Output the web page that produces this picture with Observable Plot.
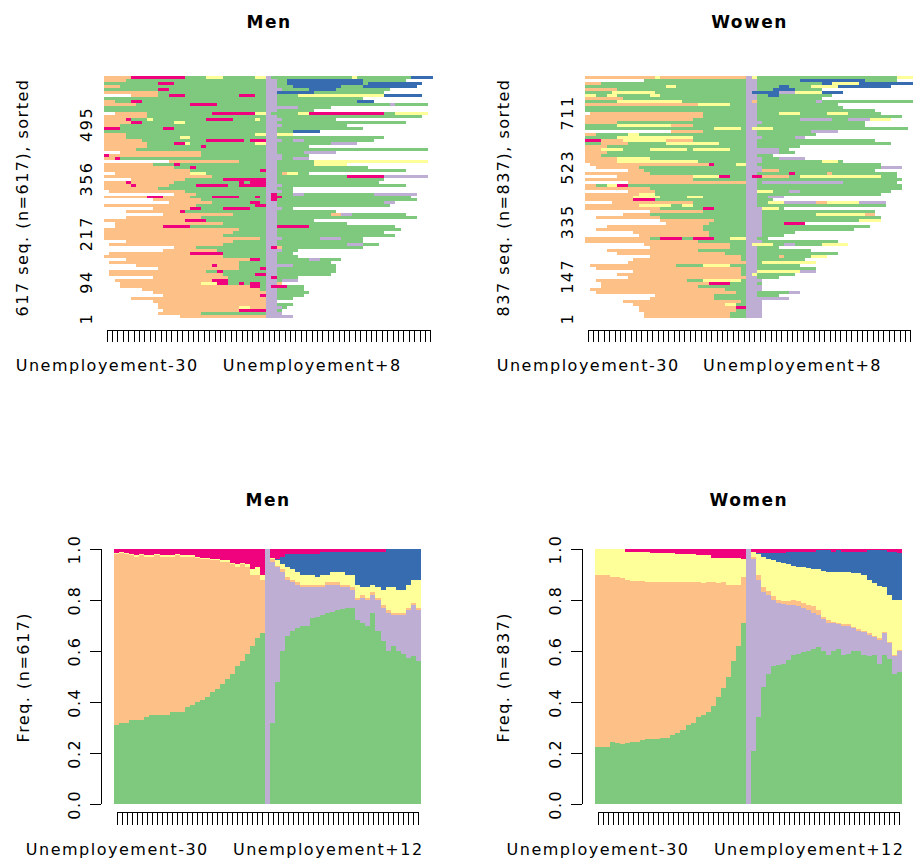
<!DOCTYPE html>
<html><head><meta charset="utf-8">
<script src="https://cdn.jsdelivr.net/npm/d3@7"></script>
<script src="https://cdn.jsdelivr.net/npm/@observablehq/plot@0.6"></script>
<style>
html,body{margin:0;padding:0;background:#fff;}
#wrap{position:relative;width:913px;height:866px;overflow:hidden;background:#fff;}
.panel{position:absolute;}
</style></head><body><div id="wrap"></div>
<script>
// ---- states (TraMineR Accent palette order) ----
const states = ["g","p","o","y","b","r"];
const stateColors = ["#7FC97F","#BEAED4","#FDC086","#FFFF99","#386CB0","#F0027F"];

// ---- time axis ----
const months = [-30,-29,-28,-27,-26,-25,-24,-23,-22,-21,-20,-19,-18,-17,-16,-15,-14,-13,-12,-11,-10,-9,-8,-7,-6,-5,-4,-3,-2,-1,0,1,2,3,4,5,6,7,8,9,10,11,12,13,14,15,16,17,18,19,20,21,22,23,24,25,26,27,28,29,30];
const timePrefix = "Unemployement";
const shownMonthsTop = [-30, 8];
const shownMonthsBottom = [-30, 12];

// ---- sequence index plots: rows read top -> bottom, "before|from unemployment" run-lengths ----
const menN = 617;
const menYTicks = [1, 94, 217, 356, 495];
const menRows = [
"o5r10g4y3g6y2|p1g15y1g10b4","o4g26|p2g2b14g8","g10r3g17|p2g2b14g1b10","o3g27|p2g3b9g4b10","g10r2g18|p3g5b5g10",
"o10g20|p2b7g13",".5o5g2r3g10r3g2|p2g4y16b7","g30|p2g16","o2g3r2g23|p2g15b3","o6g10r5g9|p2g21p1g6",
"g30|p6g6","g30|p2g7",".2o6g12r8y2|p1g5y2r14g2y6","o8g22|p2g27","o4r1g3y1g10r5g4y1g1|p3g10",
"o5r2g6y2g15|p2g24","o3g27|p3g12","r3g8r2g17|p2g16","g30|p2g3b5","o4g24y2|p2y3",
"o4g10y2g14|p2g20","o7g12r7g1r3|p3g2p2g13","o8g5r2y1g12y2|p2g10p5","o8g10r1g11|p2g6","o6g24|p2g28",
".3o15g12|p2g5p6","r1o17g12|p3g5","o2r1g27|p3g2p3",".12o13g5|p2g7y21","o9g4r1g16|p2g7y6",
"o13g3r1g13|p2g17","o16g13r1|p2g24",".2o14y3g11|p2g1o1y2g2","o20g10|p2g13r7p8",".5o10g7r8|p2g20",
"o4r1o8g12r1g1r3|p2g19","o5r1o6g5r6g2r5|p3g23","o10g20|p2g3",".1o14g15|p3g2",".13o4g13|p1r1g3p2g13p8",
"o8r3o5g4r5g3r1g1|p1r2g24",".9o9g12|p1r1g26",".12o8g7r2g1|p2g20p2","o17g11r2|p2g21",".9o7r2g4r5g3|p3g2",
".4o10r1g15|p2g11",".11o13g6|p2g10o2p2g10",".4o14g12|p2g26","o15r4g11|p2g7",".2o20g8|p2g13",
".2o9r5g14|p2r6g16","o25g5|p2g23","o24g6|p2g20","o22g8|p2g22","o29g1|p3g7p4g4",
".4o20g6|p2g16",".1o21g8|p2g13p3g3",".13o4g13|p1r1o1g15",".11o10g9|p3g3",".1o15r6g8|p2g3",
"o22g8|p2g4",".4o23r2g1|p2g6p2g4",".1o24g5|p2g10",".6o14r1o4g5|p5g8",".10o15g4r1|p2g11",
".1o18g2r1g8|p2g11",".1o21g6r2|p2g10",".9o14g7|p1r1g4",".2o18r3g7|p2g1p3",".3o15y3r2g2r1g1r2g1|p2o1",
".3o24r2g1|p1r3g3",".7o22g1|p2g5",".9o21|p2g6",".11o18r1|p2g5",".5o25|p2g3",
".9o21|p2",".10o20|p2g3",".10o15y2o3|p3g1",".11o14r5|p2g1",".10o8g12|p3",
".14o16|p5"
];

const womenN = 837;
const womenYTicks = [1, 147, 335, 523, 711];
const womenRows = [
"o13y1o16|p1y1g26y3",".11g19|p2g8b12g6","o3g27|p2g12b2y5b10","g15y2g13|p2g4b2g4y5b10","o6g24|p2g3b4g5",
"g5y8g17|p1b5p3y5b4","y2g2y2g6y2g16|p2g2b2g10","o7g23|p2g12","g6y12g12|p1o1g11p1g17","o21y6g3|p2g15",
"g30|p2g16","g30|p2g22",".1o21g8|p2g4y4g5y4g6","o22g8|p2g27","o20g10|p2g8p6g3p4y4",
"o6g24|p3g19","g6y10o4g10|p2g20","g24y5g1|p1y4g25",".16o6g8|p2g10p5","o2g6y2g20|p2g11",
"g6y14g10|p3g6p2","r3o4y8o5g10|p2g22","g3o5g7y10g5|p2g25","o4g26|p2g8","o3y4g5y7g1y7g3|p6g2",
"o4g26|p6g3","o3g27|p2g3","o6y6g18|p3g3p5","o6y15g9|p3g11y3g1",".1o22r1g4y2|p2g23",
".2o8g20|p3g22p4",".8o3g19|p3o3g18","o12g18|p2g6r1g6o1g12",".6o14y5r2g3|p1r2o5g2y15g3","o20g10|p2g27",
".8o22|p2g1p15g10","o2g2y2r2g22|p2g27","o12g18|p2g27",".8o5g17|p2y3g3p2g17","o10y3g17|p2g23",
"o9y5g5y3g8|p2g2p3","o9r4g17|p2g3",".5o15g10|p2g2y3p6o2y6p5","o10y6g2y2g10|p2g24","o14g8r2g6|p3y3g1",
".12o10g8|p3g21",".7o5g18|p3g10y9o2",".2o12g16|p3g22",".14o10g6|p3g18y4",".15o8g7|p3g4r4",
".4o18g8|p3g20",".2o20g8|p3g17",".9o14g7|p3g6",".10o13g7|p3g4","o12g2r4g2r4g3y3|p2g2",
"o21g9|p3g14",".11o16g3|p1y4g2p2g5y5",".12o15g3|p2g4",".4o17g9|p2g10",".6o20g4|p2g15",
".12o17g1|p2g4o1g5y3",".9o20g1|p2g9",".8o22|p2g1y10",".1o16g5y5g3|p2g8",".2o27g1|p2g11",
".9o20g1|p2y8p3",".6o23g1|p1y1g7",".8o22|p2g4",".2o17g3y7g1|p3",".3o20r4g3|p2g1",
".3o18g9|p3",".1o25g4|p3",".2o26g2|p2g6p2",".13o11g6|p2g4",".12o12g6|p8",
".7o22g1|p3",".9o17y2g2|p3",".10o18r2|p3",".10o18g2|p3",".11o16g3|p3",
".11o16g3|p3"
];

// ---- state distribution plots: cumulative tops per month (null = state absent) ----
const menGreenTop = [0.31,0.32,0.32,0.33,0.33,0.33,0.34,0.35,0.35,0.35,0.35,0.36,0.36,0.36,0.38,0.39,0.40,0.41,0.42,0.44,0.45,0.47,0.49,0.51,0.54,0.56,0.59,0.62,0.65,0.67,
 0,
 0.32,0.48,0.60,0.66,0.68,0.69,0.70,0.70,0.73,0.735,0.74,0.75,0.755,0.76,0.765,0.77,0.77,0.72,0.71,0.70,0.75,0.68,0.64,0.60,0.62,0.60,0.59,0.575,0.58,0.56];
const menPurpleTop = [null,null,null,null,null,null,null,null,null,null,null,null,null,null,null,null,null,null,null,null,null,null,null,null,null,null,null,null,null,null,
 1,
 0.95,0.93,0.91,0.88,0.87,0.86,0.85,0.85,0.85,0.85,0.85,0.86,0.86,0.86,0.85,0.85,0.84,0.80,0.81,0.80,0.82,0.80,0.77,0.75,0.74,0.74,0.74,0.76,0.78,0.76];
const menOrangeTop = [0.98,0.985,0.98,0.975,0.97,0.975,0.97,0.97,0.975,0.97,0.97,0.97,0.975,0.97,0.97,0.97,0.965,0.96,0.96,0.955,0.955,0.95,0.95,0.94,0.93,0.94,0.93,0.90,0.90,0.88,
 null,
 0.96,0.935,0.92,0.89,0.88,0.87,0.86,0.86,0.86,0.86,0.86,0.87,0.87,0.87,0.86,0.86,0.85,0.81,0.82,0.81,0.83,0.81,0.78,0.76,0.75,0.75,0.75,0.77,0.79,0.77];
const menYellowTop = [0.985,0.99,0.985,0.98,0.975,0.98,0.975,0.975,0.98,0.975,0.975,0.975,0.98,0.975,0.975,0.975,0.97,0.965,0.965,0.96,0.96,0.955,0.955,0.945,0.94,0.945,0.94,0.92,0.93,0.90,
 null,
 0.965,0.955,0.94,0.93,0.92,0.91,0.90,0.90,0.90,0.89,0.90,0.90,0.91,0.91,0.91,0.90,0.90,0.86,0.85,0.85,0.86,0.85,0.84,0.85,0.85,0.84,0.84,0.86,0.88,0.88];
const menBlueTop = [null,null,null,null,null,null,null,null,null,null,null,null,null,null,null,null,null,null,null,null,null,null,null,null,null,null,null,null,null,null,
 null,
 0.965,0.96,0.97,0.98,0.98,0.98,0.98,0.98,0.98,0.98,0.99,0.99,0.99,0.99,0.99,0.99,0.99,0.99,0.99,0.99,0.99,0.99,0.99,1,1,1,1,1,1,1];

const womenGreenTop = [0.225,0.225,0.225,0.245,0.24,0.235,0.24,0.245,0.245,0.25,0.255,0.255,0.255,0.26,0.26,0.27,0.28,0.29,0.31,0.32,0.34,0.35,0.36,0.385,0.42,0.455,0.50,0.56,0.62,0.71,
 0,
 0.21,0.34,0.46,0.51,0.54,0.545,0.55,0.565,0.585,0.59,0.595,0.60,0.61,0.615,0.60,0.585,0.60,0.61,0.585,0.59,0.60,0.60,0.585,0.58,0.585,0.55,0.585,0.57,0.51,0.52];
const womenPurpleTop = [null,null,null,null,null,null,null,null,null,null,null,null,null,null,null,null,null,null,null,null,null,null,null,null,null,null,null,null,null,null,
 1,
 0.96,0.88,0.83,0.82,0.80,0.79,0.785,0.78,0.78,0.775,0.77,0.76,0.75,0.74,0.725,0.71,0.71,0.705,0.70,0.70,0.69,0.68,0.675,0.665,0.655,0.645,0.67,0.63,0.58,0.60];
const womenOrangeTop = [0.90,0.90,0.90,0.89,0.89,0.885,0.88,0.875,0.875,0.875,0.87,0.87,0.87,0.87,0.87,0.87,0.87,0.87,0.87,0.87,0.87,0.865,0.87,0.87,0.865,0.87,0.86,0.86,0.86,0.89,
 null,
 0.97,0.90,0.85,0.835,0.815,0.80,0.795,0.795,0.80,0.795,0.79,0.78,0.775,0.76,0.735,0.72,0.715,0.71,0.705,0.705,0.695,0.685,0.68,0.67,0.66,0.65,0.675,0.635,0.585,0.605];
const womenYellowTop = [1,1,1,1,1,1,0.99,0.99,0.99,0.99,0.99,0.985,0.985,0.985,0.985,0.985,0.98,0.98,0.98,0.98,0.975,0.975,0.975,0.965,0.965,0.965,0.965,0.965,0.965,0.96,
 null,
 0.99,0.98,0.97,0.96,0.955,0.95,0.945,0.94,0.935,0.93,0.93,0.925,0.92,0.92,0.915,0.91,0.91,0.91,0.91,0.91,0.905,0.905,0.90,0.88,0.865,0.855,0.85,0.82,0.80,0.80];
const womenBlueTop = [null,null,null,null,null,null,null,null,null,null,null,null,null,null,null,null,null,null,null,null,null,null,null,null,null,null,null,null,null,null,
 null,
 0.99,0.985,0.985,0.985,0.985,0.985,0.985,0.99,0.99,0.99,0.99,0.99,0.99,0.995,0.995,0.995,0.99,0.995,0.99,0.99,0.99,0.99,0.99,0.995,0.995,0.995,0.995,0.99,0.99,0.985];

// ---- helpers ----
const nT = months.length;
const unempIndex = months.indexOf(0);
const monthLabel = m => m === 0 ? timePrefix : timePrefix + (m > 0 ? "+" : "") + m;
const tickCenters = months.map((m, i) => i + 0.5);

function parseRow(str) {
  const [L, R] = str.split("|");
  const tok = s => [...s.matchAll(/([.a-z])(\d+)/g)].map(m => [m[1], +m[2]]);
  const lt = tok(L), rt = tok(R);
  const segs = [];
  let c = unempIndex - d3.sum(lt, d => d[1]);
  for (const [s, n] of lt) { if (s !== ".") segs.push({s, x1: Math.max(0, c), x2: Math.min(unempIndex, c + n)}); c += n; }
  c = unempIndex;
  for (const [s, n] of rt) { if (s !== ".") segs.push({s, x1: c, x2: Math.min(nT, c + n)}); c += n; }
  return segs.filter(d => d.x2 > d.x1);
}

const baseStyle = {fontFamily: "'DejaVu Sans', sans-serif", fontSize: "16px", letterSpacing: "1.5px", color: "#000", background: "transparent", overflow: "visible"};

function place(svg, left, top) {
  const d = document.createElement("div");
  d.className = "panel"; d.style.left = left + "px"; d.style.top = top + "px";
  d.appendChild(svg);
  document.getElementById("wrap").appendChild(d);
}

function seqPanel(cfg) {
  const R = cfg.rows.length;
  const segs = [];
  cfg.rows.forEach((str, j) => {
    const b = R - 1 - j;
    const y1 = 0.5 + b * cfg.n / R, y2 = 0.5 + (b + 1) * cfg.n / R;
    for (const s of parseRow(str)) segs.push({...s, y1, y2});
  });
  return Plot.plot({
    width: cfg.width, height: 433,
    marginTop: 75.7, marginBottom: 114.7, marginLeft: cfg.marginLeft, marginRight: cfg.marginRight,
    style: baseStyle,
    x: {domain: [0, nT], label: null, axis: null},
    y: {domain: [0.5, cfg.n + 0.5], label: null, axis: null},
    color: {domain: states, range: stateColors},
    marks: [
      Plot.rect(segs, {x1: "x1", x2: "x2", y1: "y1", y2: "y2", fill: "s", shapeRendering: "crispEdges"}),
      Plot.ruleY([0.5], {x1: tickCenters[0], x2: tickCenters[nT - 1], dy: 12, stroke: "#000", shapeRendering: "crispEdges"}),
      Plot.axisX(tickCenters, {tickSize: 12, dy: 12, tickPadding: 17, label: null, stroke: "#000", shapeRendering: "crispEdges",
        tickFormat: d => { const m = months[Math.floor(d)]; return shownMonthsTop.includes(m) ? monthLabel(m) : ""; }}),
      Plot.axisY(cfg.yTicks, {tickSize: 0, tickRotate: -90, tickPadding: 13, label: null}),
      Plot.text([cfg.title], {frameAnchor: "top", dy: -53.7, textAnchor: "middle", lineAnchor: "middle", fontWeight: "bold", fontSize: 17, letterSpacing: 1}),
      Plot.text([cfg.ylab], {frameAnchor: "left", rotate: -90, dx: -82, textAnchor: "middle", lineAnchor: "middle"})
    ]
  });
}

function distPanel(cfg) {
  const layers = [["g", cfg.tops[0]], ["p", cfg.tops[1]], ["o", cfg.tops[2]], ["y", cfg.tops[3]], ["b", cfg.tops[4]], ["r", null]];
  const rects = [];
  for (let c = 0; c < nT; c++) {
    let prev = 0;
    for (const [s, tops] of layers) {
      const top = tops === null ? 1 : tops[c];
      if (top == null) continue;
      if (top > prev) rects.push({s, x1: c, x2: c + 1, y1: prev, y2: top});
      prev = Math.max(prev, top);
    }
  }
  return Plot.plot({
    width: cfg.width, height: 433,
    marginTop: 116, marginBottom: 61.7, marginLeft: cfg.marginLeft, marginRight: cfg.marginRight,
    style: baseStyle,
    x: {domain: [0, nT], label: null, axis: null},
    y: {domain: [0, 1], label: null, axis: null},
    color: {domain: states, range: stateColors},
    marks: [
      Plot.rect(rects, {x1: "x1", x2: "x2", y1: "y1", y2: "y2", fill: "s", shapeRendering: "crispEdges"}),
      Plot.ruleY([0], {x1: tickCenters[0], x2: tickCenters[nT - 1], dy: 8, stroke: "#000", shapeRendering: "crispEdges"}),
      Plot.axisX(tickCenters, {tickSize: 13, dy: 8, tickPadding: 18, label: null, stroke: "#000", shapeRendering: "crispEdges",
        tickFormat: d => { const m = months[Math.floor(d)]; return shownMonthsBottom.includes(m) ? monthLabel(m) : ""; }}),
      Plot.ruleX([0], {y1: 0, y2: 1, dx: -13, stroke: "#000", shapeRendering: "crispEdges"}),
      Plot.axisY([0, 0.2, 0.4, 0.6, 0.8, 1], {tickSize: 11, dx: -13, tickRotate: -90, tickPadding: 11, tickFormat: d3.format(".1f"), label: null, stroke: "#000", shapeRendering: "crispEdges"}),
      Plot.text([cfg.title], {frameAnchor: "top", dy: -49, textAnchor: "middle", lineAnchor: "middle", fontWeight: "bold", fontSize: 17, letterSpacing: 1}),
      Plot.text([cfg.ylab], {frameAnchor: "left", rotate: -90, dx: cfg.ylabDx, textAnchor: "middle", lineAnchor: "middle"})
    ]
  });
}

place(seqPanel({rows: menRows, n: menN, yTicks: menYTicks, title: "Men", ylab: `${menN} seq. (n=${menN}), sorted`,
  width: 457, marginLeft: 104, marginRight: 24}), 0, 0);
place(seqPanel({rows: womenRows, n: womenN, yTicks: womenYTicks, title: "Wowen", ylab: `${womenN} seq. (n=${womenN}), sorted`,
  width: 456, marginLeft: 128, marginRight: 0}), 457, 0);
place(distPanel({tops: [menGreenTop, menPurpleTop, menOrangeTop, menYellowTop, menBlueTop], title: "Men", ylab: `Freq. (n=${menN})`,
  width: 457, marginLeft: 114.3, marginRight: 36.3, ylabDx: -91}), 0, 433);
place(distPanel({tops: [womenGreenTop, womenPurpleTop, womenOrangeTop, womenYellowTop, womenBlueTop], title: "Women", ylab: `Freq. (n=${womenN})`,
  width: 456, marginLeft: 138, marginRight: 11.3, ylabDx: -92}), 457, 433);
</script>
</body></html>
